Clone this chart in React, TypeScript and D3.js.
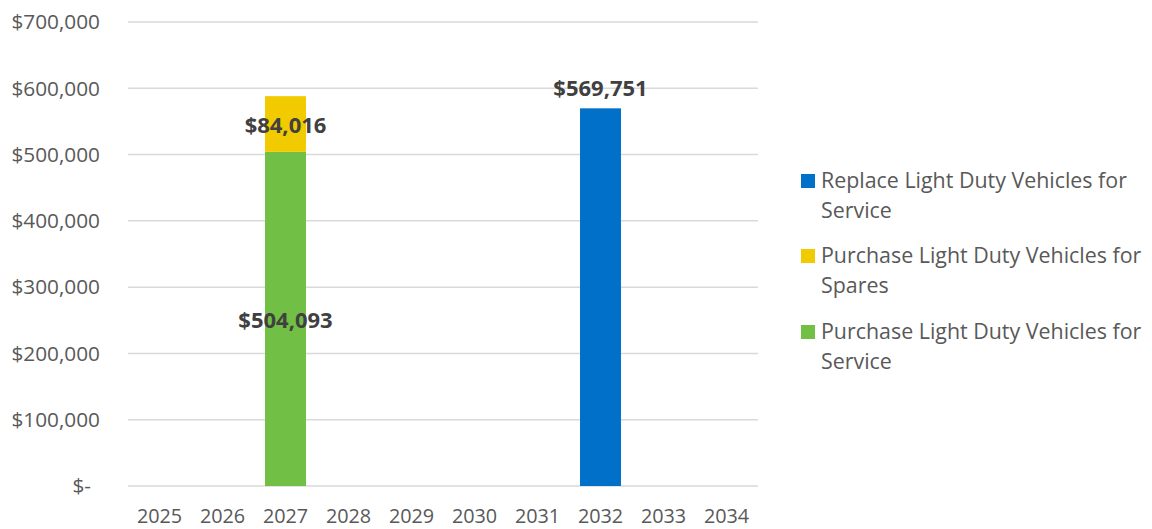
import React from "react";
import * as d3 from "d3";

const years = ["2025","2026","2027","2028","2029","2030","2031","2032","2033","2034"];
const replaceService = [0,0,0,0,0,0,0,569751,0,0];
const purchaseSpares = [0,0,84016,0,0,0,0,0,0,0];
const purchaseService = [0,0,504093,0,0,0,0,0,0,0];
const yTicks = [0,100000,200000,300000,400000,500000,600000,700000];

const seriesNames = [
  ["Replace Light Duty Vehicles for", "Service"],
  ["Purchase Light Duty Vehicles for", "Spares"],
  ["Purchase Light Duty Vehicles for", "Service"],
];
const colors = { replace: "#0070C8", spares: "#F2CA00", service: "#71BF44" };

const W = 1152, H = 529;
const FONT = "'Open Sans', Lato, sans-serif";

export default function App() {
  const x = d3.scaleBand().domain(years).range([128, 758]).paddingInner(0.35).paddingOuter(0.175);
  const y = d3.scaleLinear().domain([0, 700000]).range([486, 22]);
  const fmt = d3.format(",");
  const money = (v: number) => (v === 0 ? "$-" : "$" + fmt(v));

  const bars: any[] = [];
  const labels: any[] = [];
  years.forEach((yr, i) => {
    const x0 = x(yr)!;
    const bw = x.bandwidth();
    const cx = x0 + bw / 2;
    let base = 0;
    const stack: [number, string, string][] = [
      [purchaseService[i], colors.service, "inside"],
      [purchaseSpares[i], colors.spares, "inside"],
      [replaceService[i], colors.replace, "outside"],
    ];
    stack.forEach(([v, c, pos], j) => {
      if (v <= 0) return;
      const top = y(base + v), bot = y(base);
      bars.push(<rect key={`b${i}-${j}`} x={x0} y={top} width={bw} height={bot - top} fill={c} />);
      const ly = pos === "inside" ? (top + bot) / 2 + 1 : top - 20;
      labels.push(
        <text key={`l${i}-${j}`} x={cx} y={ly} dy="0.35em" textAnchor="middle" fontWeight="bold" fontSize={22} fill="#404040" fontFamily={FONT}>
          {money(v)}
        </text>
      );
      base += v;
    });
  });

  const legendColors = [colors.replace, colors.spares, colors.service];
  const legendY = [181, 256, 332];

  return (
    <svg width={W} height={H} style={{ position: "absolute", left: 0, top: 0, background: "#fff" }} fontFamily={FONT}>
      {yTicks.map((t) => (
        <g key={t}>
          <line x1={128} x2={758} y1={y(t)} y2={y(t)} stroke="#D9D9D9" strokeWidth={1.5} />
          <text x={t === 0 ? 91 : 100} y={y(t)} dy="0.35em" textAnchor="end" fontSize={20.8} fill="#595959">
            {money(t)}
          </text>
        </g>
      ))}
      {bars}
      {labels}
      {years.map((yr) => (
        <text key={yr} x={x(yr)! + x.bandwidth() / 2} y={523} textAnchor="middle" fontSize={19.8} fill="#595959">
          {yr}
        </text>
      ))}
      {seriesNames.map((lines, i) => (
        <g key={i}>
          <rect x={801} y={legendY[i] - 7} width={14} height={14} fill={legendColors[i]} />
          {lines.map((ln, k) => (
            <text key={k} x={821} y={legendY[i] + k * 30} dy="0.35em" fontSize={21.4} fill="#595959">
              {ln}
            </text>
          ))}
        </g>
      ))}
    </svg>
  );
}
